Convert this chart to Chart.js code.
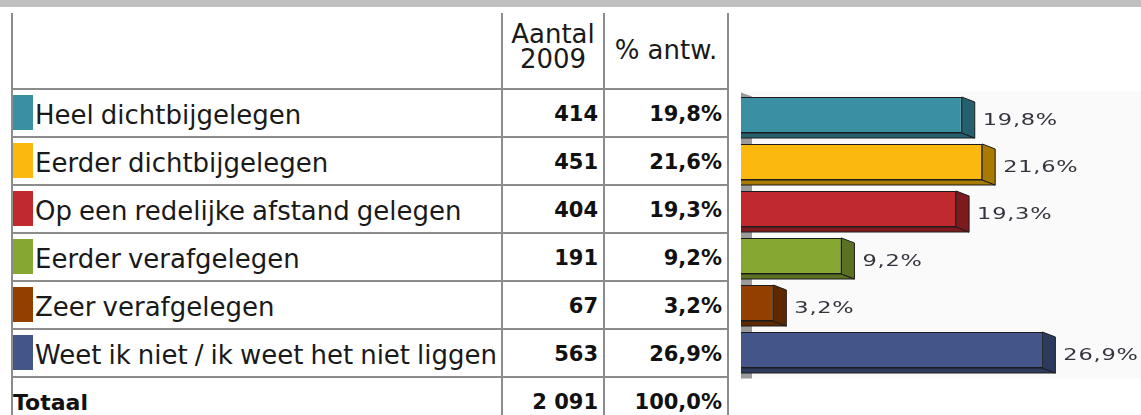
<!DOCTYPE html>
<html>
<head>
<meta charset="utf-8">
<script src="https://cdn.jsdelivr.net/npm/chart.js@4/dist/chart.umd.min.js"></script>
<style>
body{margin:0;width:1141px;height:415px;overflow:hidden;background:#fff;font-family:"DejaVu Sans",sans-serif;position:relative;color:#111}
.band{position:absolute;left:0;top:0;width:1141px;height:7px;background:#c0c0c0}
.vl{position:absolute;top:13px;height:402px;width:2px;background:#8c8c8c}
.hl{position:absolute;left:11px;width:718px;height:2px;background:#8c8c8c}
.lab{position:absolute;left:35px;font-size:26px;height:48px;line-height:52px;white-space:nowrap;word-spacing:-1.2px;color:#1a1a1a}
.num{position:absolute;font-weight:bold;font-size:21px;height:48px;line-height:51px;text-align:right;white-space:nowrap}
.sw{position:absolute;left:13px;width:20px;height:35px}
.head{position:absolute;font-size:26px;line-height:25px;text-align:center;color:#1a1a1a}
#wrap{position:absolute;left:741px;top:88px;width:400px;height:300px}
</style>
</head>
<body>
<div class="band"></div>
<div id="table"></div>
<div id="wrap"><canvas id="bars" width="400" height="300"></canvas></div>
<script>
// data from the table
const categories = ["Heel dichtbijgelegen", "Eerder dichtbijgelegen", "Op een redelijke afstand gelegen",
    "Eerder verafgelegen", "Zeer verafgelegen", "Weet ik niet / ik weet het niet liggen"];
const counts = [414, 451, 404, 191, 67, 563];
const shares = [19.8, 21.6, 19.3, 9.2, 3.2, 26.9];
const totalLabel = "Totaal";
const totalCount = 2091;
const totalShare = 100.0;
const headers = ["Aantal<br>2009", "% antw."];

// colours: front face and darker side face
const fronts = ["#3a8fa3", "#fbb80f", "#c0292d", "#86a832", "#933f00", "#445589"];
const sides = ["#24606e", "#a97a00", "#7e1a1d", "#5a7221", "#5f2900", "#2c3a5e"];

const fmtPct = v => v.toFixed(1).replace('.', ',') + '%';
const fmtNum = n => String(n).replace(/\B(?=(\d{3})+(?!\d))/g, ' ');

// ---- table ----
const tbl = document.getElementById('table');
let html = '';
[11, 501, 603, 727].forEach(x => html += `<div class="vl" style="left:${x}px"></div>`);
for (let i = 0; i <= 6; i++) html += `<div class="hl" style="top:${88 + 48 * i}px"></div>`;
html += `<div class="head" style="left:503px;width:100px;top:22px">${headers[0]}</div>`;
html += `<div class="head" style="left:605px;width:122px;top:38px">${headers[1]}</div>`;
categories.forEach((c, i) => {
    const top = 89 + 48 * i;
    html += `<div class="sw" style="top:${top + 6}px;background:${fronts[i]}"></div>`;
    html += `<div class="lab" style="top:${top}px">${c}</div>`;
    html += `<div class="num" style="top:${top}px;left:503px;width:95px">${fmtNum(counts[i])}</div>`;
    html += `<div class="num" style="top:${top}px;left:605px;width:117px">${fmtPct(shares[i])}</div>`;
});
const tt = 89 + 48 * 6;
html += `<div class="num" style="top:${tt}px;left:13px;text-align:left;font-size:22px">${totalLabel}</div>`;
html += `<div class="num" style="top:${tt}px;left:503px;width:95px">${fmtNum(totalCount)}</div>`;
html += `<div class="num" style="top:${tt}px;left:605px;width:117px">${fmtPct(totalShare)}</div>`;
tbl.innerHTML = html;

// ---- 3d bar look ----
const dx = 13, dy = 5;
const bar3d = {
    id: 'bar3d',
    beforeDatasetsDraw(chart) {
        const {ctx, chartArea: a} = chart;
        ctx.save();
        ctx.fillStyle = '#fafafa';
        ctx.fillRect(a.left, a.top, a.right - a.left, a.bottom - a.top + 5);
        // grey axis wall
        ctx.fillStyle = '#9b9b9b';
        ctx.beginPath();
        ctx.moveTo(a.left, a.top + 1);
        ctx.lineTo(a.left + 11, a.top + 5);
        ctx.lineTo(a.left + 11, a.bottom + 5);
        ctx.lineTo(a.left, a.bottom + 5);
        ctx.closePath();
        ctx.fill();
        ctx.restore();
    },
    afterDatasetsDraw(chart) {
        const ctx = chart.ctx;
        const meta = chart.getDatasetMeta(0);
        meta.data.forEach((el, i) => {
            const {x, y, base, height} = el.getProps(['x', 'y', 'base', 'height'], true);
            const top = y - height / 2, bot = y + height / 2;
            ctx.save();
            ctx.fillStyle = sides[i];
            ctx.strokeStyle = '#1c1c1c';
            ctx.lineWidth = 1;
            // bottom face
            ctx.beginPath();
            ctx.moveTo(base, bot);
            ctx.lineTo(x, bot);
            ctx.lineTo(x + dx, bot + dy);
            ctx.lineTo(base, bot + dy);
            ctx.closePath();
            ctx.fill();
            ctx.stroke();
            // side face
            ctx.beginPath();
            ctx.moveTo(x, top);
            ctx.lineTo(x + dx, top + dy);
            ctx.lineTo(x + dx, bot + dy);
            ctx.lineTo(x, bot);
            ctx.closePath();
            ctx.fill();
            ctx.stroke();
            // value label
            ctx.font = '15px "DejaVu Sans"';
            ctx.fillStyle = '#34343f';
            ctx.textBaseline = 'middle';
            ctx.letterSpacing = '0.5px';
            ctx.translate(x + dx + 8, y + 6);
            ctx.scale(1.5, 1);
            ctx.fillText(fmtPct(shares[i]), 0, 0);
            ctx.restore();
        });
    }
};

new Chart(document.getElementById('bars'), {
    type: 'bar',
    data: {
        labels: categories,
        datasets: [{
            data: shares,
            backgroundColor: fronts,
            borderColor: '#1c1c1c',
            borderWidth: 1,
            borderSkipped: false,
            barPercentage: 0.766,
            categoryPercentage: 1
        }]
    },
    options: {
        indexAxis: 'y',
        responsive: false,
        animation: false,
        layout: {padding: {top: 3.5, bottom: 14.5, left: 0, right: 0}},
        plugins: {legend: {display: false}, tooltip: {enabled: false}},
        scales: {
            x: {type: 'linear', min: 0.352, max: 35.59, display: false},
            y: {display: false}
        }
    },
    plugins: [bar3d]
});
</script>
</body>
</html>
